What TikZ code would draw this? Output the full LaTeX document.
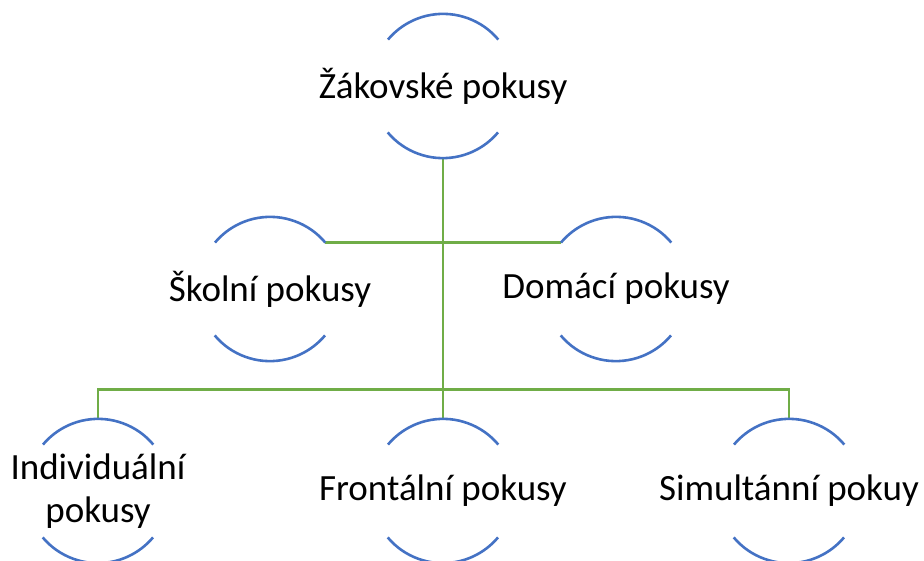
\documentclass[tikz,border=0pt]{standalone}
\usepackage{fontspec}
\setmainfont{Carlito}
\definecolor{ringblue}{HTML}{4472C4}
\definecolor{linkgreen}{HTML}{70AD47}

\begin{document}
\begin{tikzpicture}[x=1pt, y=1pt,
   pole/.style={circle, minimum size=144pt, inner sep=0pt},
   ring/.style={draw=ringblue, line width=2.6pt},
   link/.style={draw=linkgreen, line width=2.6pt},
   every label/.style={font=\fontsize{37}{43}\selectfont, align=center, inner sep=0pt}]
   \useasboundingbox (0,0) rectangle (924,560);

   \node (top) at (443,474) [pole, label={center:Žákovské pokusy}] {};
   \node (skolni) at (270,271) [pole, label={center:Školní pokusy}] {};
   \node (domaci) at (616,271) [pole, label={center:Domácí pokusy}] {};
   \node (indiv) at (98,69) [pole, label={center:Individuální\\pokusy}] {};
   \node (front) at (443,69) [pole, label={center:Frontální pokusy}] {};
   \node (simult) at (789,69) [pole, label={center:Simultánní pokuy}] {};

   \draw[link] (top.south) -- (front.north);
   \draw[link] (skolni.40) -- (domaci.140);
   \draw[link] (indiv.north) -- ++(0,29) -| (simult.north);

   \foreach \n in {top,skolni,domaci,indiv,front,simult} {
      \draw[ring] (\n.40) arc[start angle=40, end angle=140, radius=72pt];
      \draw[ring] (\n.220) arc[start angle=220, end angle=320, radius=72pt];
   }
\end{tikzpicture}
\end{document}
